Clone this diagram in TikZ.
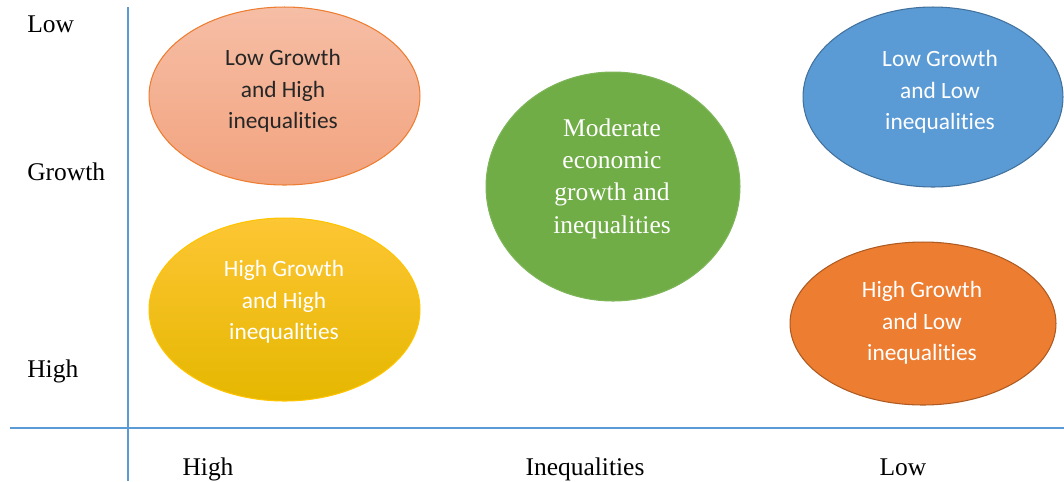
\documentclass[tikz,border=0pt]{standalone}
\usepackage{fontspec}
\setmainfont{Liberation Serif}
\newfontfamily\calibri[Ligatures=NoCommon]{Carlito}
\usetikzlibrary{shapes.geometric, calc}
\definecolor{axisBlue}{RGB}{91,155,213}
\definecolor{salmonTop}{RGB}{246,190,166}
\definecolor{salmonBottom}{RGB}{242,163,126}
\definecolor{salmonLine}{RGB}{237,125,49}
\definecolor{goldTop}{RGB}{253,198,52}
\definecolor{goldMid}{RGB}{255,196,0}
\definecolor{goldBottom}{RGB}{229,183,0}
\definecolor{leafGreen}{RGB}{112,173,71}
\definecolor{skyBlue}{RGB}{91,155,213}
\definecolor{skyLine}{RGB}{65,113,156}
\definecolor{rustOrange}{RGB}{237,125,49}
\definecolor{rustLine}{RGB}{174,90,33}

\begin{document}
\begin{tikzpicture}[
    x=0.02cm, y=-0.02cm,
    oval/.style={ellipse, inner sep=0pt, line width=0.6pt},
    txt/.style={font=\calibri\fontsize{13.3}{18}\selectfont, align=center, text=white, inner sep=0pt},
    serif/.style={font=\fontsize{14.5}{18.4}\selectfont, align=center, text=white, inner sep=0pt},
    axislabel/.style={font=\fontsize{14.5}{17}\selectfont, inner sep=0pt},
    axis/.style={draw=axisBlue, line width=0.7pt}
]
\useasboundingbox (0,0) rectangle (1064,481);

% Axes
\coordinate (ytop) at (128,7);
\coordinate (ybot) at (128,481);
\coordinate (xleft) at (10,428);
\coordinate (xright) at (1064,428);
\draw[axis] (ytop) -- (ybot);
\draw[axis] (xleft) -- (xright);

% Growth axis labels
\node[axislabel, anchor=base west] (glow) at (27,32) {Low};
\node[axislabel, anchor=base west] (gname) at (27,180) {Growth};
\node[axislabel, anchor=base west] (ghigh) at (27,377) {High};

% Inequality axis labels
\node[axislabel, anchor=base] (ihigh) at (208,475) {High};
\node[axislabel, anchor=base] (iname) at (585,475) {Inequalities};
\node[axislabel, anchor=base] (ilow) at (903,475) {Low};

% Ellipses
\node[oval, draw=salmonLine, top color=salmonTop, bottom color=salmonBottom,
      minimum width=5.42cm, minimum height=3.56cm] (lghi) at (284.5,96) {};
\node[oval, draw=goldMid, top color=goldTop, middle color=goldMid, bottom color=goldBottom,
      minimum width=5.42cm, minimum height=3.66cm] (hghi) at (284.5,309.5) {};
\node[oval, draw=leafGreen!90!white, fill=leafGreen,
      minimum width=5.08cm, minimum height=4.58cm] (mod) at (613,186.5) {};
\node[oval, draw=skyLine, fill=skyBlue,
      minimum width=5.2cm, minimum height=3.6cm] (lgli) at (933,97) {};
\node[oval, draw=rustLine, fill=rustOrange,
      minimum width=5.32cm, minimum height=3.26cm] (hgli) at (923,323.5) {};

% Texts
\node[txt, text=black!85] (lghiT) at (283,91) {Low Growth\\and High\\inequalities};
\node[txt] (hghiT) at (284,302) {High Growth\\and High\\inequalities};
\node[serif] (modT) at (612,178.5) {Moderate\\economic\\growth and\\inequalities};
\node[txt] (lgliT) at (940,92) {Low Growth\\and Low\\inequalities};
\node[txt] (hgliT) at (922,323) {High Growth\\and Low\\inequalities};

\end{tikzpicture}
\end{document}
